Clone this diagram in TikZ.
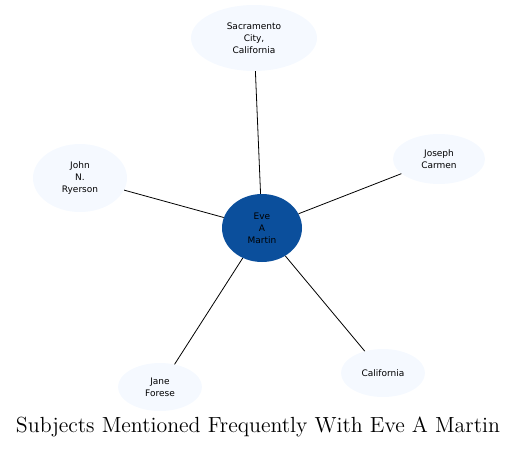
\documentclass[tikz,border=0pt]{standalone}
\usepackage{fontspec}
\newfontfamily\nodefont{DejaVu Sans}
\usetikzlibrary{shapes.geometric}
\begin{document}
\begin{tikzpicture}[x=1pt,y=-1pt,
  ent/.style={ellipse,fill=lightfill,draw=none,inner sep=0pt,
    font=\nodefont\fontsize{9}{12}\selectfont,align=center,text=black},
  link/.style={draw=black,line width=0.8pt}]
\definecolor{lightfill}{HTML}{F5F9FF}
\definecolor{centerfill}{HTML}{0B4F9C}
\useasboundingbox (0,0) rectangle (517,448);
\node[ent,minimum width=126pt,minimum height=66pt] (sac) at (254,38) {Sacramento\\City,\\California};
\node[ent,fill=centerfill,minimum width=80pt,minimum height=68pt] (eve) at (262,228) {Eve\\A\\Martin};
\node[ent,minimum width=94pt,minimum height=68pt] (john) at (80,178) {John\\N.\\Ryerson};
\node[ent,minimum width=92pt,minimum height=50pt] (jos) at (439,159) {Joseph\\Carmen};
\node[ent,minimum width=84pt,minimum height=48pt] (jane) at (160,387) {Jane\\Forese};
\node[ent,minimum width=84pt,minimum height=48pt] (cal) at (383,373) {California};
\draw[link] (eve) -- (sac);
\draw[link] (eve) -- (john);
\draw[link] (eve) -- (jos);
\draw[link] (eve) -- (jane);
\draw[link] (eve) -- (cal);
\node[inner sep=0pt,anchor=base] (title) at (258,432) {\resizebox{484pt}{!}{\fontsize{14}{16}\selectfont Subjects Mentioned Frequently With Eve A Martin}};
\end{tikzpicture}
\end{document}
